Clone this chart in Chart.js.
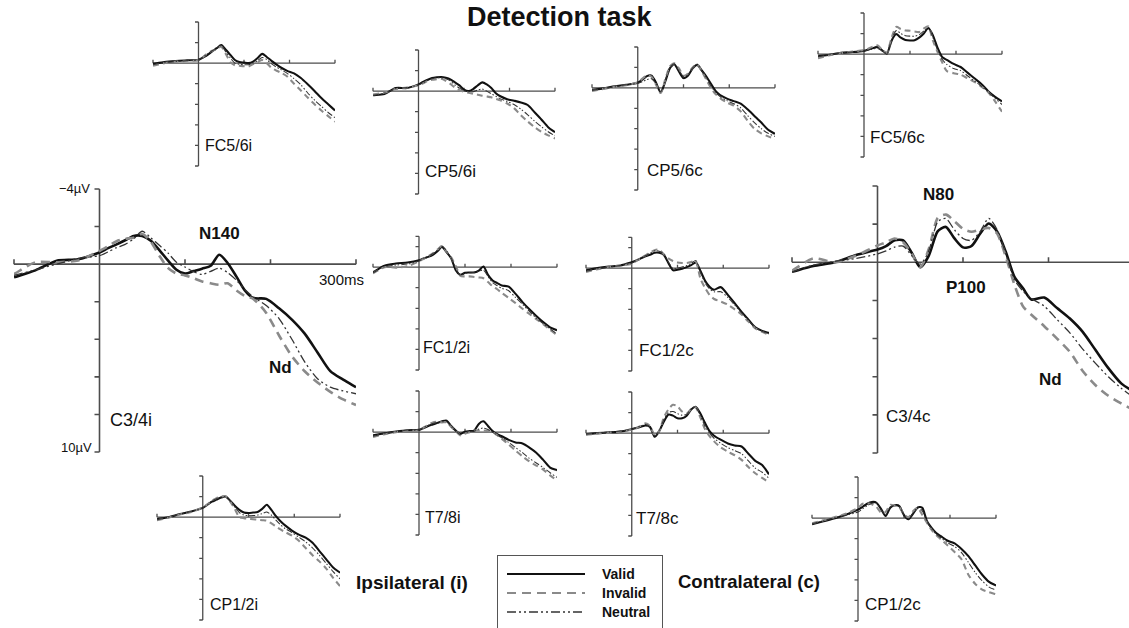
<!DOCTYPE html>
<html lang="en">
<head>
<meta charset="UTF-8">
<title>Detection task</title>
<script src="https://cdn.jsdelivr.net/npm/chart.js"></script>
<style>
  html, body { margin: 0; padding: 0; background: #fff; }
  body { width: 1129px; height: 628px; position: relative; overflow: hidden; font-family: "Liberation Sans", Arial, sans-serif; color: #111; }
  canvas { position: absolute; }
  .lbl { position: absolute; white-space: nowrap; line-height: 1; }
  .b { font-weight: bold; }
  #legend { position: absolute; left: 497px; top: 555px; width: 166px; height: 90px; border: 1.5px solid #555; box-sizing: border-box; }
  #legend span { position: absolute; left: 104px; font: bold 14px "Liberation Sans Narrow", "Liberation Sans", Arial, sans-serif; }
</style>
</head>
<body>
<div class="lbl b" style="left:467px;top:4px;font-size:27px">Detection task</div>

<div class="lbl" style="left:59px;top:182px;font-size:13px">&minus;4&micro;V</div>
<div class="lbl" style="left:61px;top:441px;font-size:13px">10&micro;V</div>
<div class="lbl" style="left:319px;top:272px;font-size:15px">300ms</div>
<div class="lbl b" style="left:199px;top:225px;font-size:17px">N140</div>
<div class="lbl b" style="left:269px;top:359px;font-size:17px">Nd</div>
<div class="lbl" style="left:110px;top:411px;font-size:18px">C3/4i</div>
<div class="lbl b" style="left:923px;top:186px;font-size:17px">N80</div>
<div class="lbl b" style="left:946px;top:279px;font-size:17px">P100</div>
<div class="lbl b" style="left:1039px;top:371px;font-size:17px">Nd</div>
<div class="lbl" style="left:886px;top:408px;font-size:17px">C3/4c</div>

<div class="lbl" style="left:205px;top:138px;font-size:16px">FC5/6i</div>
<div class="lbl" style="left:425px;top:163px;font-size:17px">CP5/6i</div>
<div class="lbl" style="left:647px;top:162px;font-size:17px">CP5/6c</div>
<div class="lbl" style="left:870px;top:129px;font-size:17px">FC5/6c</div>
<div class="lbl" style="left:423px;top:340px;font-size:16px">FC1/2i</div>
<div class="lbl" style="left:639px;top:342px;font-size:17px">FC1/2c</div>
<div class="lbl" style="left:425px;top:510px;font-size:16px">T7/8i</div>
<div class="lbl" style="left:636px;top:510px;font-size:17px">T7/8c</div>
<div class="lbl" style="left:210px;top:597px;font-size:16px">CP1/2i</div>
<div class="lbl" style="left:865px;top:596px;font-size:17px">CP1/2c</div>

<div class="lbl b" style="left:356px;top:573px;font-size:19px">Ipsilateral (i)</div>
<div class="lbl b" style="left:678px;top:573px;font-size:18.5px">Contralateral (c)</div>

<div id="legend">
  <svg width="166" height="80" style="position:absolute;left:0;top:0">
    <line x1="9" y1="18" x2="87" y2="18" stroke="#111" stroke-width="2.2"/>
    <line x1="9" y1="37" x2="87" y2="37" stroke="#8a8a8a" stroke-width="2.2" stroke-dasharray="9,6"/>
    <line x1="9" y1="56" x2="87" y2="56" stroke="#333" stroke-width="1.3" stroke-dasharray="9,3,2,3,2,3"/>
  </svg>
  <span style="top:10px">Valid</span>
  <span style="top:29px">Invalid</span>
  <span style="top:48px">Neutral</span>
</div>

<script>
// time base shared by all panels (ms)
const timeMs = [-100,-75,-50,-25,0,10,20,30,40,50,60,70,80,90,100,110,120,130,140,150,160,170,180,195,210,225,240,255,270,285,300];
const xTicks = [-100, 100, 200, 300];
const yTicks = [-4, -2, 2, 4, 6, 8, 10];

// amplitudes in microvolts (negative up)
const c34iValid   = [0.7,0.33,-0.18,-0.26,-0.62,-0.85,-1.05,-1.27,-1.5,-1.5,-1.25,-0.75,-0.2,0.3,0.5,0.37,0.24,0.09,-0.5,-0.05,0.65,1.4,1.8,1.85,2.35,2.95,3.7,4.7,5.7,6.15,6.55];
const c34iInvalid = [0.53,-0.1,-0.1,-0.2,-0.7,-0.95,-1.22,-1.35,-1.4,-1.6,-1.2,-0.45,0.2,0.5,0.6,0.75,0.92,1.02,1.1,1.02,1.4,1.7,1.85,2.6,3.8,4.9,5.7,6.3,6.8,7.2,7.5];
const c34iNeutral = [0.6,0.3,0.0,-0.3,-0.45,-0.65,-0.88,-1.05,-1.35,-1.75,-1.4,-1.0,-0.6,-0.1,0.15,0.4,0.55,0.38,0.22,0.45,0.85,1.35,1.75,2.2,2.9,4.0,5.2,6.1,6.55,6.75,6.9];

const c34cValid   = [0.5,0.2,0.0,-0.38,-0.67,-0.85,-1.15,-1.15,-0.5,0.26,-0.35,-1.6,-1.85,-1.25,-0.78,-0.85,-1.5,-2.03,-1.6,-0.55,0.75,1.35,1.95,1.85,2.4,2.95,3.65,4.6,5.55,6.35,6.8];
const c34cInvalid = [0.44,-0.2,0.0,-0.35,-0.88,-1.05,-1.25,-1.05,-0.45,0.26,-0.7,-2.3,-2.5,-2.15,-1.75,-1.6,-1.72,-1.8,-1.5,-0.3,1.15,2.3,2.75,3.35,4.0,4.7,5.7,6.45,7.0,7.4,7.75];
const c34cNeutral = [0.5,0.15,-0.05,-0.2,-0.44,-0.6,-0.8,-0.85,-0.35,0.1,-0.6,-2.1,-2.3,-1.7,-1.25,-1.15,-1.6,-2.3,-1.7,-0.45,0.9,1.5,1.9,2.3,3.0,3.7,4.55,5.3,6.0,6.6,7.1];

const fc56iValid   = [0.05,-0.1,-0.2,-0.28,-0.32,-0.55,-0.8,-1.15,-1.45,-1.75,-1.3,-0.8,-0.3,-0.1,-0.05,0.0,-0.15,-0.5,-0.9,-0.6,-0.25,0.1,0.4,0.75,1.0,1.45,2.05,2.7,3.4,4.0,4.6];
const fc56iInvalid = [0.25,0.0,-0.15,-0.2,-0.3,-0.6,-0.95,-1.2,-1.35,-1.6,-0.9,-0.1,0.2,0.25,0.3,0.32,0.1,-0.1,-0.3,0.0,0.45,0.7,0.9,1.3,2.0,2.65,3.35,4.0,4.6,5.15,5.7];
const fc56iNeutral = [0.15,-0.05,-0.15,-0.25,-0.3,-0.6,-0.9,-1.2,-1.4,-1.7,-1.1,-0.5,0.0,0.1,0.15,0.15,0.0,-0.25,-0.55,-0.35,0.05,0.35,0.6,1.0,1.5,2.1,2.9,3.6,4.2,4.8,5.3];

const cp56iValid   = [0.4,0.28,-0.3,-0.3,-0.66,-0.9,-1.1,-1.28,-1.35,-1.38,-1.3,-1.15,-0.85,-0.56,-0.15,0.0,-0.2,-0.55,-0.85,-0.65,-0.3,0.2,0.5,0.78,0.93,1.1,1.35,2.05,2.75,3.5,4.0];
const cp56iInvalid = [0.33,0.15,-0.2,-0.35,-0.56,-0.75,-1.0,-1.1,-1.15,-1.2,-1.0,-0.7,-0.35,-0.1,0.05,0.15,0.25,0.35,0.45,0.52,0.6,0.75,0.9,1.2,1.65,2.35,2.95,3.5,3.95,4.3,4.6];
const cp56iNeutral = [0.4,0.2,-0.25,-0.35,-0.6,-0.8,-1.05,-1.2,-1.3,-1.3,-1.2,-1.0,-0.6,-0.3,-0.05,0.05,0.05,-0.1,-0.2,0.0,0.25,0.5,0.75,1.0,1.3,1.75,2.3,2.9,3.45,3.95,4.35];

const cp56cValid   = [0.2,0.05,-0.15,-0.3,-0.5,-0.8,-1.15,-1.2,-0.5,0.45,-0.6,-1.9,-2.3,-1.6,-0.95,-1.2,-1.9,-2.25,-1.7,-1.1,-0.4,0.3,0.7,1.05,1.3,1.55,2.1,2.75,3.4,4.1,4.5];
const cp56cInvalid = [0.3,0.1,-0.1,-0.25,-0.55,-0.9,-1.2,-1.1,-0.3,0.5,-0.8,-2.1,-2.4,-1.9,-1.2,-1.4,-2.0,-2.3,-1.6,-0.8,0.0,0.6,1.0,1.45,1.75,2.3,3.2,4.0,4.45,4.75,5.0];
const cp56cNeutral = [0.25,0.05,-0.1,-0.3,-0.45,-0.6,-0.8,-0.9,-0.4,0.4,-0.7,-2.0,-2.35,-1.75,-1.1,-1.3,-1.95,-2.3,-1.65,-0.95,-0.2,0.45,0.85,1.25,1.55,1.95,2.7,3.4,4.0,4.45,4.75];

const fc56cValid   = [0.2,0.05,-0.13,-0.2,-0.32,-0.45,-0.6,-0.7,-0.35,-0.05,-1.3,-1.95,-1.6,-1.38,-1.33,-1.35,-1.6,-2.0,-2.55,-1.8,-0.6,0.3,0.55,0.95,1.25,1.8,2.35,2.9,3.6,4.15,4.6];
const fc56cInvalid = [0.4,0.1,-0.1,-0.25,-0.38,-0.55,-0.75,-0.85,-0.4,-0.15,-1.6,-2.65,-2.45,-2.3,-2.28,-2.2,-2.15,-2.5,-2.7,-1.3,-0.2,0.8,1.65,1.85,2.0,2.35,2.7,3.15,3.7,4.6,5.6];
const fc56cNeutral = [0.25,0.05,-0.1,-0.2,-0.3,-0.4,-0.5,-0.55,-0.3,-0.1,-1.4,-2.3,-2.0,-1.8,-1.75,-1.75,-1.9,-2.25,-2.6,-1.6,-0.4,0.5,1.0,1.4,1.6,2.1,2.6,3.1,3.7,4.3,4.9];

const fc12iValid   = [0.5,-0.15,-0.35,-0.45,-0.66,-0.85,-1.0,-1.2,-1.55,-1.95,-1.45,-0.85,0.3,0.75,0.55,0.52,0.52,0.35,-0.07,0.75,1.3,1.55,1.78,1.9,2.6,3.4,4.1,4.75,5.35,5.85,6.15];
const fc12iInvalid = [0.6,0.0,0.05,-0.1,-0.56,-0.8,-1.05,-1.35,-1.7,-2.05,-1.5,-0.95,-0.1,0.85,0.9,0.9,0.95,1.0,1.08,1.45,1.85,2.15,2.5,3.0,3.5,4.05,4.55,5.05,5.55,6.1,6.6];
const fc12iNeutral = [0.55,-0.05,-0.2,-0.3,-0.6,-0.85,-1.05,-1.3,-1.65,-2.05,-1.55,-0.9,0.1,0.8,0.6,0.55,0.5,0.4,0.3,0.9,1.5,1.8,2.05,2.3,2.95,3.6,4.3,4.95,5.5,6.0,6.5];

const fc12cValid   = [0.22,0.0,-0.15,-0.26,-0.58,-0.75,-0.95,-1.15,-1.3,-1.5,-1.5,-1.3,-0.5,0.2,0.15,0.06,-0.1,-0.3,-0.55,0.25,1.2,1.8,2.1,1.85,2.6,3.4,4.25,5.0,5.75,6.1,6.3];
const fc12cInvalid = [0.38,0.1,-0.1,-0.26,-0.42,-0.7,-1.0,-1.25,-1.5,-1.75,-1.8,-1.35,-0.95,-0.7,-0.55,-0.5,-0.5,-0.6,-0.7,1.0,1.9,2.6,3.0,3.25,3.55,4.0,4.5,5.2,5.85,6.2,6.5];
const fc12cNeutral = [0.3,0.05,-0.1,-0.25,-0.5,-0.75,-1.0,-1.2,-1.45,-1.7,-1.65,-1.35,-0.6,0.05,0.0,-0.1,-0.25,-0.45,-0.75,0.4,1.4,2.0,2.3,2.3,2.85,3.6,4.35,5.1,5.8,6.15,6.4];

const t78iValid   = [0.3,0.12,-0.05,-0.18,-0.22,-0.4,-0.6,-0.75,-0.9,-1.05,-1.12,-0.6,-0.15,0.16,-0.05,-0.1,-0.15,-0.8,-1.05,-0.6,-0.1,0.2,0.4,0.75,1.0,1.1,1.5,2.0,2.7,3.45,3.7];
const t78iInvalid = [0.48,0.2,0.0,-0.15,-0.16,-0.45,-0.7,-0.95,-1.0,-0.95,-0.96,-0.5,-0.1,0.32,0.15,0.0,-0.16,-0.16,-0.16,-0.1,0.0,0.3,0.65,1.2,1.8,2.35,2.85,3.25,3.65,4.2,4.7];
const t78iNeutral = [0.4,0.15,-0.05,-0.2,-0.2,-0.45,-0.65,-0.85,-0.95,-1.0,-1.0,-0.55,-0.1,0.25,0.05,-0.05,-0.1,-0.3,-0.4,-0.25,0.0,0.3,0.55,1.0,1.5,2.0,2.55,3.0,3.45,3.95,4.4];

const t78cValid   = [0.1,0.0,-0.08,-0.15,-0.38,-0.5,-0.62,-0.75,-0.6,0.35,-0.2,-1.1,-1.8,-1.7,-1.45,-1.45,-1.7,-2.3,-2.55,-1.9,-1.0,-0.2,0.25,0.65,1.0,1.2,1.3,2.0,2.7,3.1,4.0];
const t78cInvalid = [0.15,0.05,-0.05,-0.15,-0.32,-0.5,-0.7,-0.95,-0.7,0.2,-0.2,-1.5,-2.3,-2.75,-2.6,-2.1,-1.9,-2.35,-2.5,-1.5,-0.4,0.3,0.8,1.4,1.8,2.15,2.6,3.3,3.9,4.35,4.8];
const t78cNeutral = [0.1,0.0,-0.1,-0.2,-0.35,-0.55,-0.7,-0.85,-0.6,0.25,-0.25,-1.3,-2.0,-2.1,-1.9,-1.75,-1.85,-2.35,-2.5,-1.7,-0.7,0.0,0.5,1.0,1.4,1.7,2.0,2.7,3.4,3.8,4.4];

const cp12iValid   = [0.2,0.0,-0.3,-0.55,-0.9,-1.2,-1.5,-1.7,-1.9,-2.0,-1.6,-1.1,-0.7,-0.45,-0.4,-0.45,-0.5,-0.8,-1.2,-0.7,-0.1,0.4,0.8,1.3,1.7,2.0,2.5,3.3,4.1,4.9,5.4];
const cp12iInvalid = [0.3,0.05,-0.25,-0.5,-0.95,-1.25,-1.6,-1.85,-2.0,-2.05,-1.5,-0.8,0.0,0.1,0.15,0.2,0.25,0.3,0.35,0.6,0.9,1.2,1.45,1.8,2.3,3.0,3.7,4.3,5.0,5.9,6.7];
const cp12iNeutral = [0.25,0.0,-0.3,-0.55,-0.9,-1.2,-1.55,-1.8,-1.95,-2.0,-1.55,-1.0,-0.45,-0.2,-0.15,-0.15,-0.2,-0.35,-0.5,-0.2,0.3,0.75,1.1,1.5,1.95,2.4,3.0,3.7,4.5,5.3,6.0];

const cp12cValid   = [0.6,0.3,0.0,-0.35,-0.83,-1.1,-1.4,-1.57,-1.5,-0.9,-0.2,-1.0,-1.25,-1.15,-0.3,0.1,-0.45,-1.05,-1.0,0.3,0.95,1.45,1.75,2.2,2.45,3.0,3.7,4.6,5.5,6.2,6.55];
const cp12cInvalid = [0.5,0.2,-0.1,-0.45,-1.0,-1.4,-1.45,-1.35,-1.1,-0.55,-0.6,-1.3,-1.2,-1.05,-0.35,-0.1,-0.7,-1.0,-0.3,0.45,1.15,1.65,2.05,2.65,3.3,4.0,5.5,6.4,6.95,7.2,7.4];
const cp12cNeutral = [0.55,0.25,-0.05,-0.3,-0.6,-0.9,-1.2,-1.45,-1.45,-0.8,-0.35,-1.1,-1.25,-1.1,-0.3,0.05,-0.55,-1.0,-0.7,0.35,1.05,1.55,1.9,2.4,2.75,3.35,4.3,5.3,6.1,6.7,7.0];

// panel placement: pixel box of the -100..300 ms / -4..10 uV frame
const panels = [
  { v: c34iValid,  i: c34iInvalid,  n: c34iNeutral,  l: 14,  r: 356,  t: 189, b: 452, big: true },
  { v: c34cValid,  i: c34cInvalid,  n: c34cNeutral,  l: 792, r: 1134, t: 186, b: 453, big: true },
  { v: fc56iValid, i: fc56iInvalid, n: fc56iNeutral, l: 153, r: 335,  t: 22,  b: 166 },
  { v: cp56iValid, i: cp56iInvalid, n: cp56iNeutral, l: 373, r: 555,  t: 50,  b: 194 },
  { v: cp56cValid, i: cp56cInvalid, n: cp56cNeutral, l: 592, r: 775,  t: 47,  b: 190 },
  { v: fc56cValid, i: fc56cInvalid, n: fc56cNeutral, l: 818, r: 1002, t: 13,  b: 157 },
  { v: fc12iValid, i: fc12iInvalid, n: fc12iNeutral, l: 373, r: 557,  t: 226, b: 370, top: -3 },
  { v: fc12cValid, i: fc12cInvalid, n: fc12cNeutral, l: 586, r: 769,  t: 227, b: 371, top: -3 },
  { v: t78iValid,  i: t78iInvalid,  n: t78iNeutral,  l: 373, r: 557,  t: 391, b: 535 },
  { v: t78cValid,  i: t78cInvalid,  n: t78cNeutral,  l: 586, r: 769,  t: 392, b: 536 },
  { v: cp12iValid, i: cp12iInvalid, n: cp12iNeutral, l: 157, r: 340,  t: 476, b: 620 },
  { v: cp12cValid, i: cp12cInvalid, n: cp12cNeutral, l: 812, r: 996,  t: 477, b: 621 }
];

// draws the crossing axes at 0 ms / 0 uV
const erpAxes = {
  id: 'erpAxes',
  beforeDatasetsDraw(chart, args, opts) {
    const { ctx, scales: { x, y } } = chart;
    const x0 = x.getPixelForValue(0), y0 = y.getPixelForValue(0);
    const top = opts.top;
    ctx.save();
    ctx.strokeStyle = '#4d4d4d';
    ctx.lineWidth = opts.width;
    ctx.beginPath();
    ctx.moveTo(x.getPixelForValue(-100), y0);
    ctx.lineTo(x.getPixelForValue(300), y0);
    ctx.moveTo(x0, y.getPixelForValue(top));
    ctx.lineTo(x0, y.getPixelForValue(10));
    xTicks.forEach(v => {
      const px = x.getPixelForValue(v);
      ctx.moveTo(px, y0);
      ctx.lineTo(px, y0 - opts.tick);
    });
    yTicks.filter(v => v >= top).concat(top).forEach(v => {
      const py = y.getPixelForValue(v);
      ctx.moveTo(x0, py);
      ctx.lineTo(x0 - opts.tick, py);
    });
    ctx.stroke();
    ctx.restore();
  }
};

const pad = 6;
panels.forEach(p => {
  const cv = document.createElement('canvas');
  const w = p.r - p.l + 2 * pad, h = p.b - p.t + 2 * pad;
  cv.width = w; cv.height = h;
  cv.style.left = (p.l - pad) + 'px';
  cv.style.top = (p.t - pad) + 'px';
  cv.style.width = w + 'px'; cv.style.height = h + 'px';
  document.body.appendChild(cv);
  const s = p.big ? 1 : 0.8;
  const pts = arr => timeMs.map((t, k) => ({ x: t, y: arr[k] }));
  new Chart(cv, {
    type: 'line',
    data: {
      datasets: [
        { label: 'Neutral', data: pts(p.n), borderColor: '#333', borderWidth: 1.3 * s,
          borderDash: p.big ? [9, 3, 2, 3, 2, 3] : [6, 2, 1.5, 2, 1.5, 2] },
        { label: 'Invalid', data: pts(p.i), borderColor: '#8a8a8a', borderWidth: 2.6 * s,
          borderDash: p.big ? [9, 6] : [6, 4] },
        { label: 'Valid', data: pts(p.v), borderColor: '#111', borderWidth: 2.6 * s }
      ]
    },
    options: {
      responsive: false,
      animation: false,
      layout: { padding: pad },
      elements: { point: { radius: 0 }, line: { tension: 0.25, fill: false } },
      scales: {
        x: { type: 'linear', min: -100, max: 300, display: false },
        y: { min: -4, max: 10, reverse: true, display: false }
      },
      plugins: {
        legend: { display: false },
        tooltip: { enabled: false },
        erpAxes: { top: p.top !== undefined ? p.top : -4, width: p.big ? 1.6 : 1.3, tick: p.big ? 5 : 3.5 }
      }
    },
    plugins: [erpAxes]
  });
});
</script>
</body>
</html>
